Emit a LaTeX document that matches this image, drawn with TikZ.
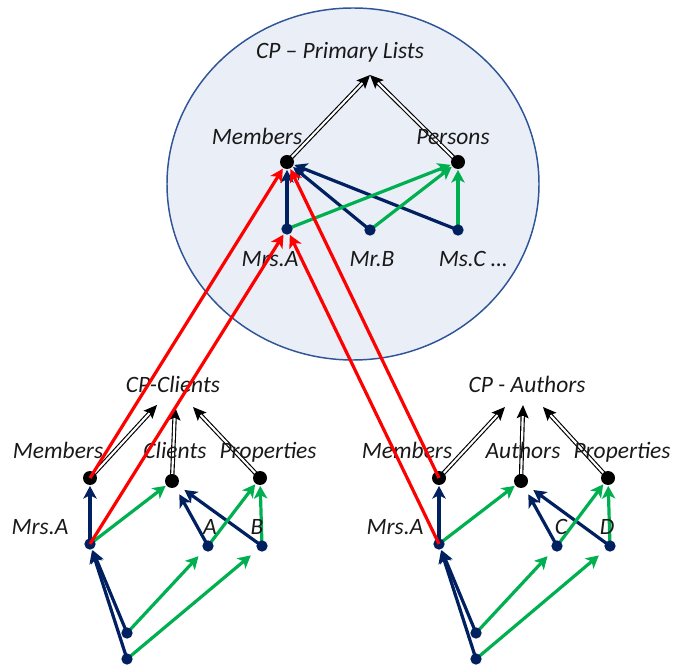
\documentclass[tikz,border=0pt]{standalone}
\usepackage{fontspec}
\setmainfont{Carlito}
\usetikzlibrary{arrows.meta}
\definecolor{navy}{HTML}{002060}
\definecolor{grn}{HTML}{00B050}
\definecolor{ellfill}{HTML}{E9EEF7}
\definecolor{ellline}{HTML}{2F5597}
\pgfdeclarelayer{bg}
\pgfdeclarelayer{fg}
\pgfsetlayers{bg,main,fg}
\begin{document}
\begin{tikzpicture}[x=0.75pt,y=-0.75pt,
  lbl/.style={font=\fontsize{17.6}{20}\selectfont\itshape, anchor=base, inner sep=0pt, text=black!90},
  bigdot/.style={circle, fill=black, inner sep=0pt, minimum size=10.5pt},
  smalldot/.style={circle, fill=navy, inner sep=0pt, minimum size=8.5pt},
  link/.style={line width=2.4pt, -{Stealth[length=9.5pt,width=10pt,inset=2.5pt]}, shorten >=0.5pt},
  nv/.style={link, draw=navy},
  gr/.style={link, draw=grn},
  rd/.style={link, draw=red},
  dbl/.style={draw=black, line width=0.85pt, double=white, double distance=1.6pt,
              -{Stealth[length=10pt,width=9pt,inset=2pt]}},
]
\useasboundingbox (0,0) rectangle (675,666);

% ---------- primary lists ----------
\node[bigdot] (tm) at (287,162) {};
\node[bigdot] (tp) at (458,162) {};
\node[smalldot] (ta) at (287,229) {};
\node[smalldot] (tb) at (370,230) {};
\node[smalldot] (tc) at (458,230) {};
\coordinate (ttop) at (370,75);

\node[lbl] (ttitle) at (340,59) {CP – Primary Lists};
\node[lbl] (tml) at (257,145) {Members};
\node[lbl] (tpl) at (453,145) {Persons};
\node[lbl] (tal) at (270,267) {Mrs.A};
\node[lbl] (tbl) at (372,267) {Mr.B};
\node[lbl] (tcl) at (473,267) {Ms.C …};

% ---------- clients ----------
\node[bigdot] (lm) at (90,478) {};
\node[bigdot] (lc) at (172,481) {};
\node[bigdot] (lp) at (260,478) {};
\node[smalldot] (la) at (90,544) {};
\node[smalldot] (lA) at (208,546) {};
\node[smalldot] (lB) at (262,546) {};
\node[smalldot] (l1) at (127,633) {};
\node[smalldot] (l2) at (127,659) {};
\coordinate (ltm) at (157,405);
\coordinate (ltc) at (175,407);
\coordinate (ltp) at (193,407);

\node[lbl] (ltitle) at (173,393) {CP-Clients};
\node[lbl] (lml) at (58,459) {Members};
\node[lbl] (lcl) at (175,459) {Clients};
\node[lbl] (lpl) at (268,459) {Properties};
\node[lbl] (lal) at (40,534) {Mrs.A};
\node[lbl] (lAl) at (210,534) {A};
\node[lbl] (lBl) at (257,534) {B};

% ---------- authors ----------
\node[bigdot] (rm) at (439,478) {};
\node[bigdot] (rc) at (521,481) {};
\node[bigdot] (rp) at (608,478) {};
\node[smalldot] (ra) at (439,544) {};
\node[smalldot] (rC) at (557,546) {};
\node[smalldot] (rD) at (610,546) {};
\node[smalldot] (r1) at (476,633) {};
\node[smalldot] (r2) at (476,659) {};
\coordinate (rtm) at (505,407);
\coordinate (rtc) at (523,405);
\coordinate (rtp) at (543,407);

\node[lbl] (rtitle) at (527,393) {CP - Authors};
\node[lbl] (rml) at (407,459) {Members};
\node[lbl] (rcl) at (523,459) {Authors};
\node[lbl] (rpl) at (622,459) {Properties};
\node[lbl] (ral) at (395,534) {Mrs.A};
\node[lbl] (rCl) at (561,534) {C};
\node[lbl] (rDl) at (607,534) {D};

\begin{pgfonlayer}{bg}
  \draw[ellline, fill=ellfill, line width=1.1pt] (353,184) ellipse [x radius=139.5pt, y radius=132pt];

  % list membership (double arrows)
  \draw[dbl] (tm.center) -- (ttop);
  \draw[dbl] (tp.center) -- (ttop);
  \draw[dbl] (lm.center) -- (ltm);
  \draw[dbl] (lc.center) -- (ltc);
  \draw[dbl] (lp.center) -- (ltp);
  \draw[dbl] (rm.center) -- (rtm);
  \draw[dbl] (rc.center) -- (rtc);
  \draw[dbl] (rp.center) -- (rtp);

  % primary lists
  \draw[nv] (ta.center) -- (tm);
  \draw[nv] (tb.center) -- (tm);
  \draw[nv] (tc.center) -- (tm);
  \draw[gr] (ta.center) -- (tp);
  \draw[gr] (tb.center) -- (tp);
  \draw[gr] (tc.center) -- (tp);

  % clients
  \draw[nv] (la.center) -- (lm);
  \draw[nv, shorten >=6pt] (lA.center) -- (lc);
  \draw[nv, shorten >=6pt] (lB.center) -- (lc);
  \draw[nv] (l1.center) -- (la);
  \draw[nv] (l2.center) -- (la);
  \draw[gr] (la.center) -- (lc);
  \draw[gr] (lA.center) -- (lp);
  \draw[gr] (lB.center) -- (lp);
  \draw[gr, shorten >=6pt] (l1.center) -- (lA);
  \draw[gr, shorten >=6.5pt] (l2.center) -- (lB);

  % authors
  \draw[nv] (ra.center) -- (rm);
  \draw[nv, shorten >=6pt] (rC.center) -- (rc);
  \draw[nv, shorten >=6pt] (rD.center) -- (rc);
  \draw[nv] (r1.center) -- (ra);
  \draw[nv] (r2.center) -- (ra);
  \draw[gr] (ra.center) -- (rc);
  \draw[gr] (rC.center) -- (rp);
  \draw[gr] (rD.center) -- (rp);
  \draw[gr, shorten >=6pt] (r1.center) -- (rC);
  \draw[gr, shorten >=6.5pt] (r2.center) -- (rD);
\end{pgfonlayer}

\begin{pgfonlayer}{fg}
  % links to the primary lists
  \draw[rd] (lm.center) -- (tm);
  \draw[rd] (la.center) -- (ta);
  \draw[rd] (ra.center) -- (ta);
  \draw[rd] (rm.center) -- (tm);
\end{pgfonlayer}
\end{tikzpicture}
\end{document}
